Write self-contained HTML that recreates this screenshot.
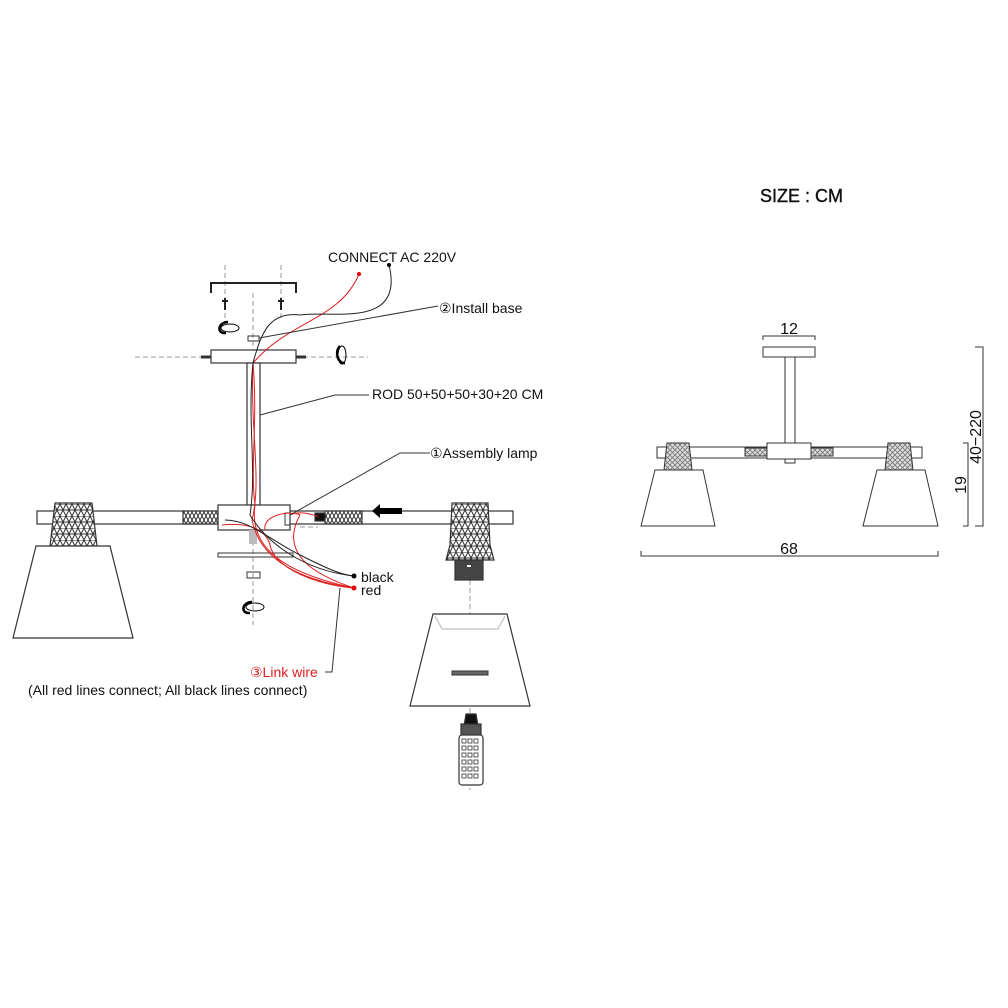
<!DOCTYPE html>
<html><head><meta charset="utf-8"><style>
html,body{margin:0;padding:0;background:#fff;}
svg{display:block;}
text{font-family:"Liberation Sans",sans-serif;}
</style></head><body>
<svg width="1008" height="1008" viewBox="0 0 1008 1008" xmlns="http://www.w3.org/2000/svg">
<defs>
<pattern id="hx" width="12" height="12" patternUnits="userSpaceOnUse">
<rect width="12" height="12" fill="#fff"/>
<path d="M0 12 L6 0 L12 12 M0 0 L12 0 M0 6 L12 6 M0 0 L6 12 L12 0" stroke="#333" stroke-width="1" fill="none"/>
</pattern>
<pattern id="hs" width="8" height="8" patternUnits="userSpaceOnUse">
<rect width="8" height="8" fill="#fff"/>
<path d="M0 8 L4 0 L8 8 M0 0 L4 8 L8 0" stroke="#333" stroke-width="1" fill="none"/>
</pattern>
<pattern id="hsm" width="5" height="5" patternUnits="userSpaceOnUse">
<rect width="5" height="5" fill="#ddd"/>
<path d="M0 5 L5 0 M0 0 L5 5" stroke="#777" stroke-width="0.8"/>
</pattern>
</defs>
<g fill="none" stroke="#333" stroke-width="1.2">
<!-- dashed guide lines -->
<g stroke="#999" stroke-dasharray="5,3" stroke-width="1">
<line x1="225" y1="265" x2="225" y2="318"/>
<line x1="281" y1="265" x2="281" y2="318"/>
<line x1="253" y1="293" x2="253" y2="625"/>
<line x1="135" y1="357" x2="368" y2="357"/>
<line x1="300" y1="527" x2="318" y2="527"/>
<line x1="470" y1="580" x2="470" y2="790"/>
</g>
<!-- bracket -->
<path d="M211 293 L211 283 L296 283 L296 293" stroke="#222" stroke-width="2"/>
<path d="M225 298 V310 M222 301 H228 M281 298 V310 M278 301 H284" stroke="#222" stroke-width="2"/>
<rect x="248" y="336" width="11" height="5" stroke-width="1"/>
<!-- canopy -->
<rect x="211" y="350" width="85" height="13" fill="#fff"/>
<path d="M201 357 H211 M296 357 H306" stroke-width="3"/>
<!-- rod -->
<rect x="247" y="363" width="13" height="142" fill="#fff"/>
<!-- arm -->
<rect x="37" y="511" width="476" height="13" fill="#fff"/>
<rect x="183" y="511" width="35" height="13" fill="url(#hs)"/>
<rect x="325" y="511" width="37" height="13" fill="url(#hs)"/>
<rect x="315" y="513" width="10" height="8" fill="#111"/>
<polygon points="372,511 380,504 380,508 402,508 402,514 380,514 380,518" fill="#000" stroke="none"/>
<!-- center box -->
<rect x="218" y="505" width="72" height="25" fill="#fff"/>
<rect x="249" y="530" width="8" height="14" fill="#bbb" stroke="none"/>
<rect x="285" y="513" width="5" height="12" stroke-width="1"/>
<rect x="218" y="553" width="75" height="4" stroke-width="1"/>
<rect x="247" y="572" width="13" height="6" stroke-width="1"/>
<!-- left holder + shade -->
<polygon points="55,503 92,503 97,546 50,546" fill="url(#hx)"/>
<polygon points="36,546 110,546 133,638 13,638" fill="#fff"/>
<!-- right holder -->
<polygon points="452,503 488,503 490,545 494,560 446,560 450,545" fill="url(#hx)"/>
<rect x="455" y="560" width="28" height="20" fill="#444"/>
<rect x="467" y="565" width="4" height="2" fill="#fff" stroke="none"/>
<!-- right shade -->
<polygon points="433,614 507,614 530,706 410,706" fill="#fff"/>
<path d="M435 616 L442 629 L498 629 L505 616" stroke="#ccc" stroke-width="1.5"/>
<rect x="452" y="671" width="36" height="4" fill="#666" stroke-width="1"/>
<!-- bulb -->
<path d="M464 726 L466 714 L476 714 L478 726 Z" fill="#111"/>
<rect x="461" y="724" width="20" height="14" fill="#555"/>
<rect x="459" y="735" width="24" height="50" rx="3" fill="#fff"/>
<g stroke-width="0.8">
<rect x="462" y="739" width="4" height="4"/><rect x="468" y="739" width="4" height="4"/><rect x="474" y="739" width="4" height="4"/>
<rect x="462" y="746" width="4" height="4"/><rect x="468" y="746" width="4" height="4"/><rect x="474" y="746" width="4" height="4"/>
<rect x="462" y="753" width="4" height="4"/><rect x="468" y="753" width="4" height="4"/><rect x="474" y="753" width="4" height="4"/>
<rect x="462" y="760" width="4" height="4"/><rect x="468" y="760" width="4" height="4"/><rect x="474" y="760" width="4" height="4"/>
<rect x="462" y="767" width="4" height="4"/><rect x="468" y="767" width="4" height="4"/><rect x="474" y="767" width="4" height="4"/>
<rect x="462" y="774" width="4" height="4"/><rect x="468" y="774" width="4" height="4"/><rect x="474" y="774" width="4" height="4"/>
</g>
<!-- swirl icons -->
<g stroke="#000" stroke-width="2.5">
<path d="M228 322 C218 322 216 334 226 333"/>
<ellipse cx="230" cy="328" rx="9" ry="4" stroke-width="1"/>
<path d="M340 346 C334 352 338 364 345 363"/>
<ellipse cx="342" cy="355" rx="4" ry="9" stroke-width="1"/>
<path d="M252 602 C242 602 240 614 250 613"/>
<ellipse cx="255" cy="607" rx="9" ry="4" stroke-width="1"/>
</g>
<!-- wires -->
<g stroke="#e02020" stroke-width="1">
<path d="M359 274 C340 320 290 320 253 363 C258 420 250 470 255 505 C250 540 270 570 354 588"/>
<path d="M253 363 C250 430 262 480 252 520 C260 560 300 580 354 588"/>
<path d="M222 525 C250 522 266 530 270 545 C275 570 320 585 354 588"/>
<path d="M290 515 C300 510 315 515 318 517 M265 530 C262 515 290 510 300 515 C275 560 330 580 354 588"/>
</g>
<g stroke="#222" stroke-width="1">
<path d="M389 265 C405 330 330 310 300 315 C270 312 262 330 253 363"/>
<path d="M253 363 C247 420 257 470 250 515 C265 540 300 570 354 576"/>
<path d="M225 520 C250 520 270 540 300 555 C320 565 340 575 354 576"/>
</g>
<circle cx="389" cy="265" r="2" fill="#000" stroke="none"/>
<circle cx="359" cy="274" r="2" fill="#e00" stroke="none"/>
<circle cx="354" cy="576" r="2.5" fill="#000" stroke="none"/>
<circle cx="354" cy="588" r="2.5" fill="#e00" stroke="none"/>
<!-- leaders -->
<g stroke="#333" stroke-width="1">
<path d="M259 338 L438 306"/>
<path d="M260 415 L335 395 L369 395"/>
<path d="M290 515 L400 453 L430 453"/>
<path d="M340 588 L332 672 L325 672"/>
</g>

<!-- RIGHT DIAGRAM -->
<path d="M763 340 V336 H815 V340" stroke-width="1"/>
<rect x="763" y="347" width="52" height="10" fill="#fff" stroke-width="1"/>
<rect x="785" y="357" width="10" height="86" fill="#fff" stroke-width="1"/>
<rect x="657" y="447" width="265" height="11" fill="#fff" stroke-width="1"/>
<rect x="745" y="448" width="22" height="8" fill="url(#hsm)" stroke-width="1"/>
<rect x="811" y="448" width="22" height="8" fill="url(#hsm)" stroke-width="1"/>
<rect x="767" y="443" width="44" height="16" fill="#fff" stroke-width="1"/>
<rect x="785" y="459" width="10" height="4" stroke-width="1"/>
<polygon points="667,443 689,443 692,470 664,470" fill="url(#hsm)" stroke-width="1"/>
<polygon points="888,443 910,443 913,470 885,470" fill="url(#hsm)" stroke-width="1"/>
<polygon points="655,470 703,470 715,526 641,526" fill="#fff" stroke-width="1"/>
<polygon points="877,470 925,470 938,526 863,526" fill="#fff" stroke-width="1"/>
<path d="M641 551 V556 H938 V551" stroke-width="1"/>
<path d="M963 443 H968 V526 H963" stroke-width="1"/>
<path d="M975 347 H983 V526 H975" stroke-width="1"/>
</g>
<g font-size="14" fill="#111">
<text x="328" y="262">CONNECT AC 220V</text>
<text x="439" y="313">②Install base</text>
<text x="372" y="399">ROD 50+50+50+30+20 CM</text>
<text x="430" y="458">①Assembly lamp</text>
<text x="361" y="582">black</text>
<text x="361" y="595">red</text>
<text x="250" y="677" fill="#e02020">③Link wire</text>
<text x="28" y="695">(All red lines connect; All black lines connect)</text>
<text x="760" y="202" font-size="18" stroke="#111" stroke-width="0.4">SIZE : CM</text>
<text x="789" y="334" font-size="16" text-anchor="middle">12</text>
<text x="789" y="554" font-size="16" text-anchor="middle">68</text>
<text transform="translate(966,485) rotate(-90)" font-size="16" text-anchor="middle">19</text>
<text transform="translate(981,437) rotate(-90)" font-size="16" text-anchor="middle">40−220</text>
</g>
</svg>
</body></html>
